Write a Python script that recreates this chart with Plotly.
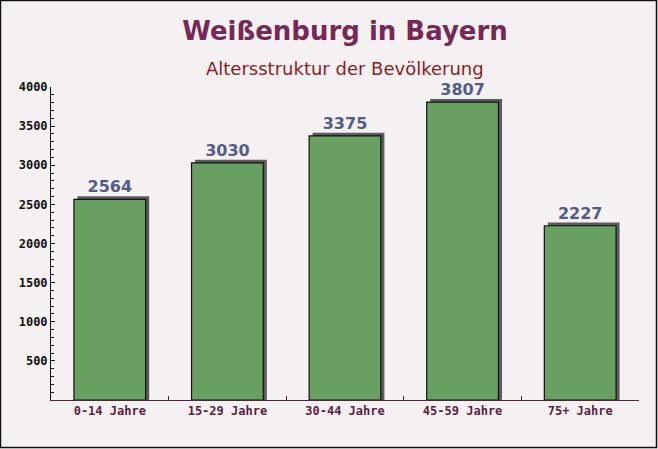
import plotly.graph_objects as go

# Altersstruktur, Weißenburg in Bayern
categories = ["0-14 Jahre", "15-29 Jahre", "30-44 Jahre", "45-59 Jahre", "75+ Jahre"]
population = [2564, 3030, 3375, 3807, 2227]
y_ticks = [500, 1000, 1500, 2000, 2500, 3000, 3500, 4000]

W, H = 658, 449
M = dict(l=51, r=19, t=87, b=49)
pw, ph = W - M["l"] - M["r"], H - M["t"] - M["b"]

BAR_W = 0.61
SHADOW_DX = 0.03  # in category units
SHADOW_DY = 40    # in value units

fig = go.Figure()

# drop shadow behind the bars (3d look)
fig.add_trace(go.Bar(
    x=categories,
    y=[v + SHADOW_DY for v in population],
    width=BAR_W,
    offset=-BAR_W / 2 + SHADOW_DX,
    marker=dict(color="#5c5a5c", line=dict(width=0)),
    hoverinfo="skip",
    showlegend=False,
))
fig.add_trace(go.Bar(
    x=categories,
    y=population,
    width=BAR_W,
    offset=-BAR_W / 2,
    marker=dict(color="#68a062", line=dict(color="#111111", width=1.2)),
    showlegend=False,
))
# value labels
fig.add_trace(go.Scatter(
    x=categories,
    y=[v + SHADOW_DY for v in population],
    mode="text",
    text=[str(v) for v in population],
    textposition="top center",
    textfont=dict(family="DejaVu Sans", size=16, color="#535b88", weight="bold"),
    cliponaxis=False,
    hoverinfo="skip",
    showlegend=False,
))

fig.update_layout(
    width=W,
    height=H,
    margin=M,
    barmode="overlay",
    paper_bgcolor="#f5f1f3",
    plot_bgcolor="rgba(0,0,0,0)",
    title=dict(
        text="<b>Weißenburg in Bayern</b>",
        x=0.5, xanchor="center", xref="paper",
        y=1 - 31 / H, yanchor="middle", yref="container",
        font=dict(family="DejaVu Sans", size=26, color="#772956"),
    ),
    annotations=[dict(
        text="Altersstruktur der Bevölkerung",
        xref="paper", yref="paper",
        x=0.5, y=1 + (M["t"] - 69) / ph,
        xanchor="center", yanchor="middle",
        showarrow=False,
        font=dict(family="DejaVu Sans", size=18, color="#8c1c22"),
    )],
    shapes=[dict(
        type="rect", xref="paper", yref="paper",
        x0=-(M["l"] - 0.5) / pw, x1=1 + (M["r"] - 1.5) / pw,
        y0=-(M["b"] - 1.5) / ph, y1=1 + (M["t"] - 0.5) / ph,
        line=dict(color="#111111", width=1.5),
        fillcolor="rgba(0,0,0,0)",
        layer="below",
    )],
)

fig.update_xaxes(
    type="category",
    range=[-0.5, len(categories) - 0.5],
    showgrid=False,
    showline=True, linecolor="#5a1f40", linewidth=1,
    ticks="inside", tickson="boundaries", ticklen=4, tickcolor="#5a1f40",
    tickfont=dict(family="DejaVu Sans Mono", size=12, color="#5a1f40", weight="bold"),
)
fig.update_yaxes(
    range=[0, 4000],
    tickvals=y_ticks,
    showgrid=False, zeroline=False,
    showline=True, linecolor="#111111", linewidth=1,
    ticks="inside", ticklen=4, tickcolor="#111111",
    tickfont=dict(family="DejaVu Sans Mono", size=12, color="#111111", weight="bold"),
    minor=dict(ticks="inside", dtick=100, ticklen=3, tickcolor="#111111", showgrid=False),
)

fig.write_html(
    "out.html",
    config={"displayModeBar": False},
    post_script="document.body.style.margin='0';",
)
